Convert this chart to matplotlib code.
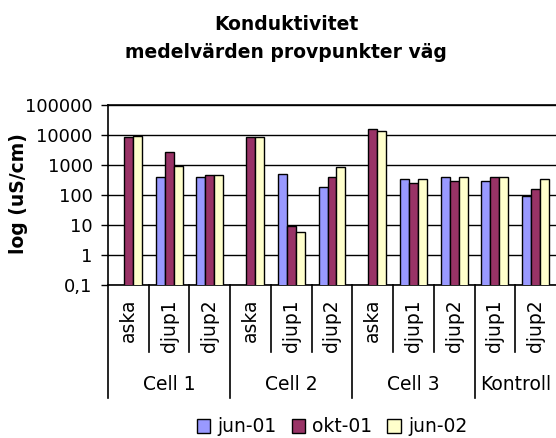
import matplotlib
matplotlib.use('Agg')
import matplotlib.pyplot as plt
from matplotlib.patches import Patch
import numpy as np

nan = np.nan
categories = ['aska', 'djup1', 'djup2', 'aska', 'djup1', 'djup2',
              'aska', 'djup1', 'djup2', 'djup1', 'djup2']
groups = ['Cell 1', 'Cell 2', 'Cell 3', 'Kontroll']
group_sizes = [3, 3, 3, 2]
series = ['jun-01', 'okt-01', 'jun-02']
jun01 = [nan, 390, 390, nan, 520, 180, nan, 330, 390, 290, 95]
okt01 = [8300, 2800, 450, 8300, 9.5, 390, 15400, 245, 285, 390, 155]
jun02 = [9500, 950, 450, 8300, 6, 830, 13200, 330, 390, 390, 330]
yticks = [0.1, 1, 10, 100, 1000, 10000, 100000]
ytick_labels = ['0,1', '1', '10', '100', '1000', '10000', '100000']
colors = ['#9999FF', '#993366', '#FFFFCC']

plt.rcParams['font.family'] = ['DejaVu Sans']

fig = plt.figure(figsize=(5.56, 4.38), dpi=100)
ax = fig.add_axes([108 / 556, 1 - 285 / 438, 1 - 108 / 556, 180 / 438])

x = np.arange(len(categories))
w = 0.22
for i, (vals, c) in enumerate(zip([jun01, okt01, jun02], colors)):
    ax.bar(x + (i - 1) * w, vals, w, color=c, edgecolor='black', linewidth=1, zorder=3)

ax.set_yscale('log')
ax.set_ylim(0.1, 100000)
ax.set_xlim(-0.5, len(categories) - 0.5)
ax.set_yticks(yticks)
ax.set_yticklabels(ytick_labels, fontsize=13)
ax.yaxis.set_minor_locator(matplotlib.ticker.NullLocator())
ax.tick_params(axis='y', length=5, width=1, color='black', pad=6)
ax.grid(axis='y', color='black', linewidth=1, zorder=0)
ax.set_axisbelow(True)
for s in ['top', 'left', 'bottom']:
    ax.spines[s].set_linewidth(1.2)
ax.spines['right'].set_visible(False)

ax.set_xticks(x)
ax.set_xticklabels(categories, rotation=90, fontsize=13.5, va='top')
ax.tick_params(axis='x', length=0, pad=10)

# hierarchical axis separators
trans = ax.get_xaxis_transform()
inner_low = -67 / 180
outer_low = -113 / 180
ax.plot([-0.5, -0.5], [0, outer_low], color='black', lw=1.2, transform=trans, clip_on=False)
pos = -0.5
for g, n in zip(groups, group_sizes):
    for k in range(1, n):
        ax.plot([pos + k, pos + k], [0, inner_low], color='black', lw=1.2,
                transform=trans, clip_on=False)
    ax.text(pos + n / 2, -99 / 180, g, ha='center', va='center', fontsize=13.5,
            transform=trans)
    pos += n
    if pos < len(categories) - 0.5:
        ax.plot([pos, pos], [0, outer_low], color='black', lw=1.2, transform=trans, clip_on=False)

ax.set_ylabel('log (uS/cm)', fontsize=13.5, fontweight='bold')
ax.yaxis.set_label_coords(-80 / 448, (285 - 194) / 180)

fig.text(286 / 556, 1 - 25 / 438, 'Konduktivitet', ha='center', va='center',
         fontsize=13.5, fontweight='bold')
fig.text(286 / 556, 1 - 52 / 438, 'medelvärden provpunkter väg', ha='center', va='center',
         fontsize=13.5, fontweight='bold')

handles = [Patch(facecolor=c, edgecolor='black', linewidth=1) for c in colors]
fig.legend(handles, series, loc='center', bbox_to_anchor=(332 / 556, 1 - 427 / 438),
           ncol=3, frameon=False, fontsize=13.5, handlelength=0.7, handleheight=0.7,
           handletextpad=0.4, columnspacing=0.8, borderpad=0)

fig.savefig('out.png', dpi=100)
